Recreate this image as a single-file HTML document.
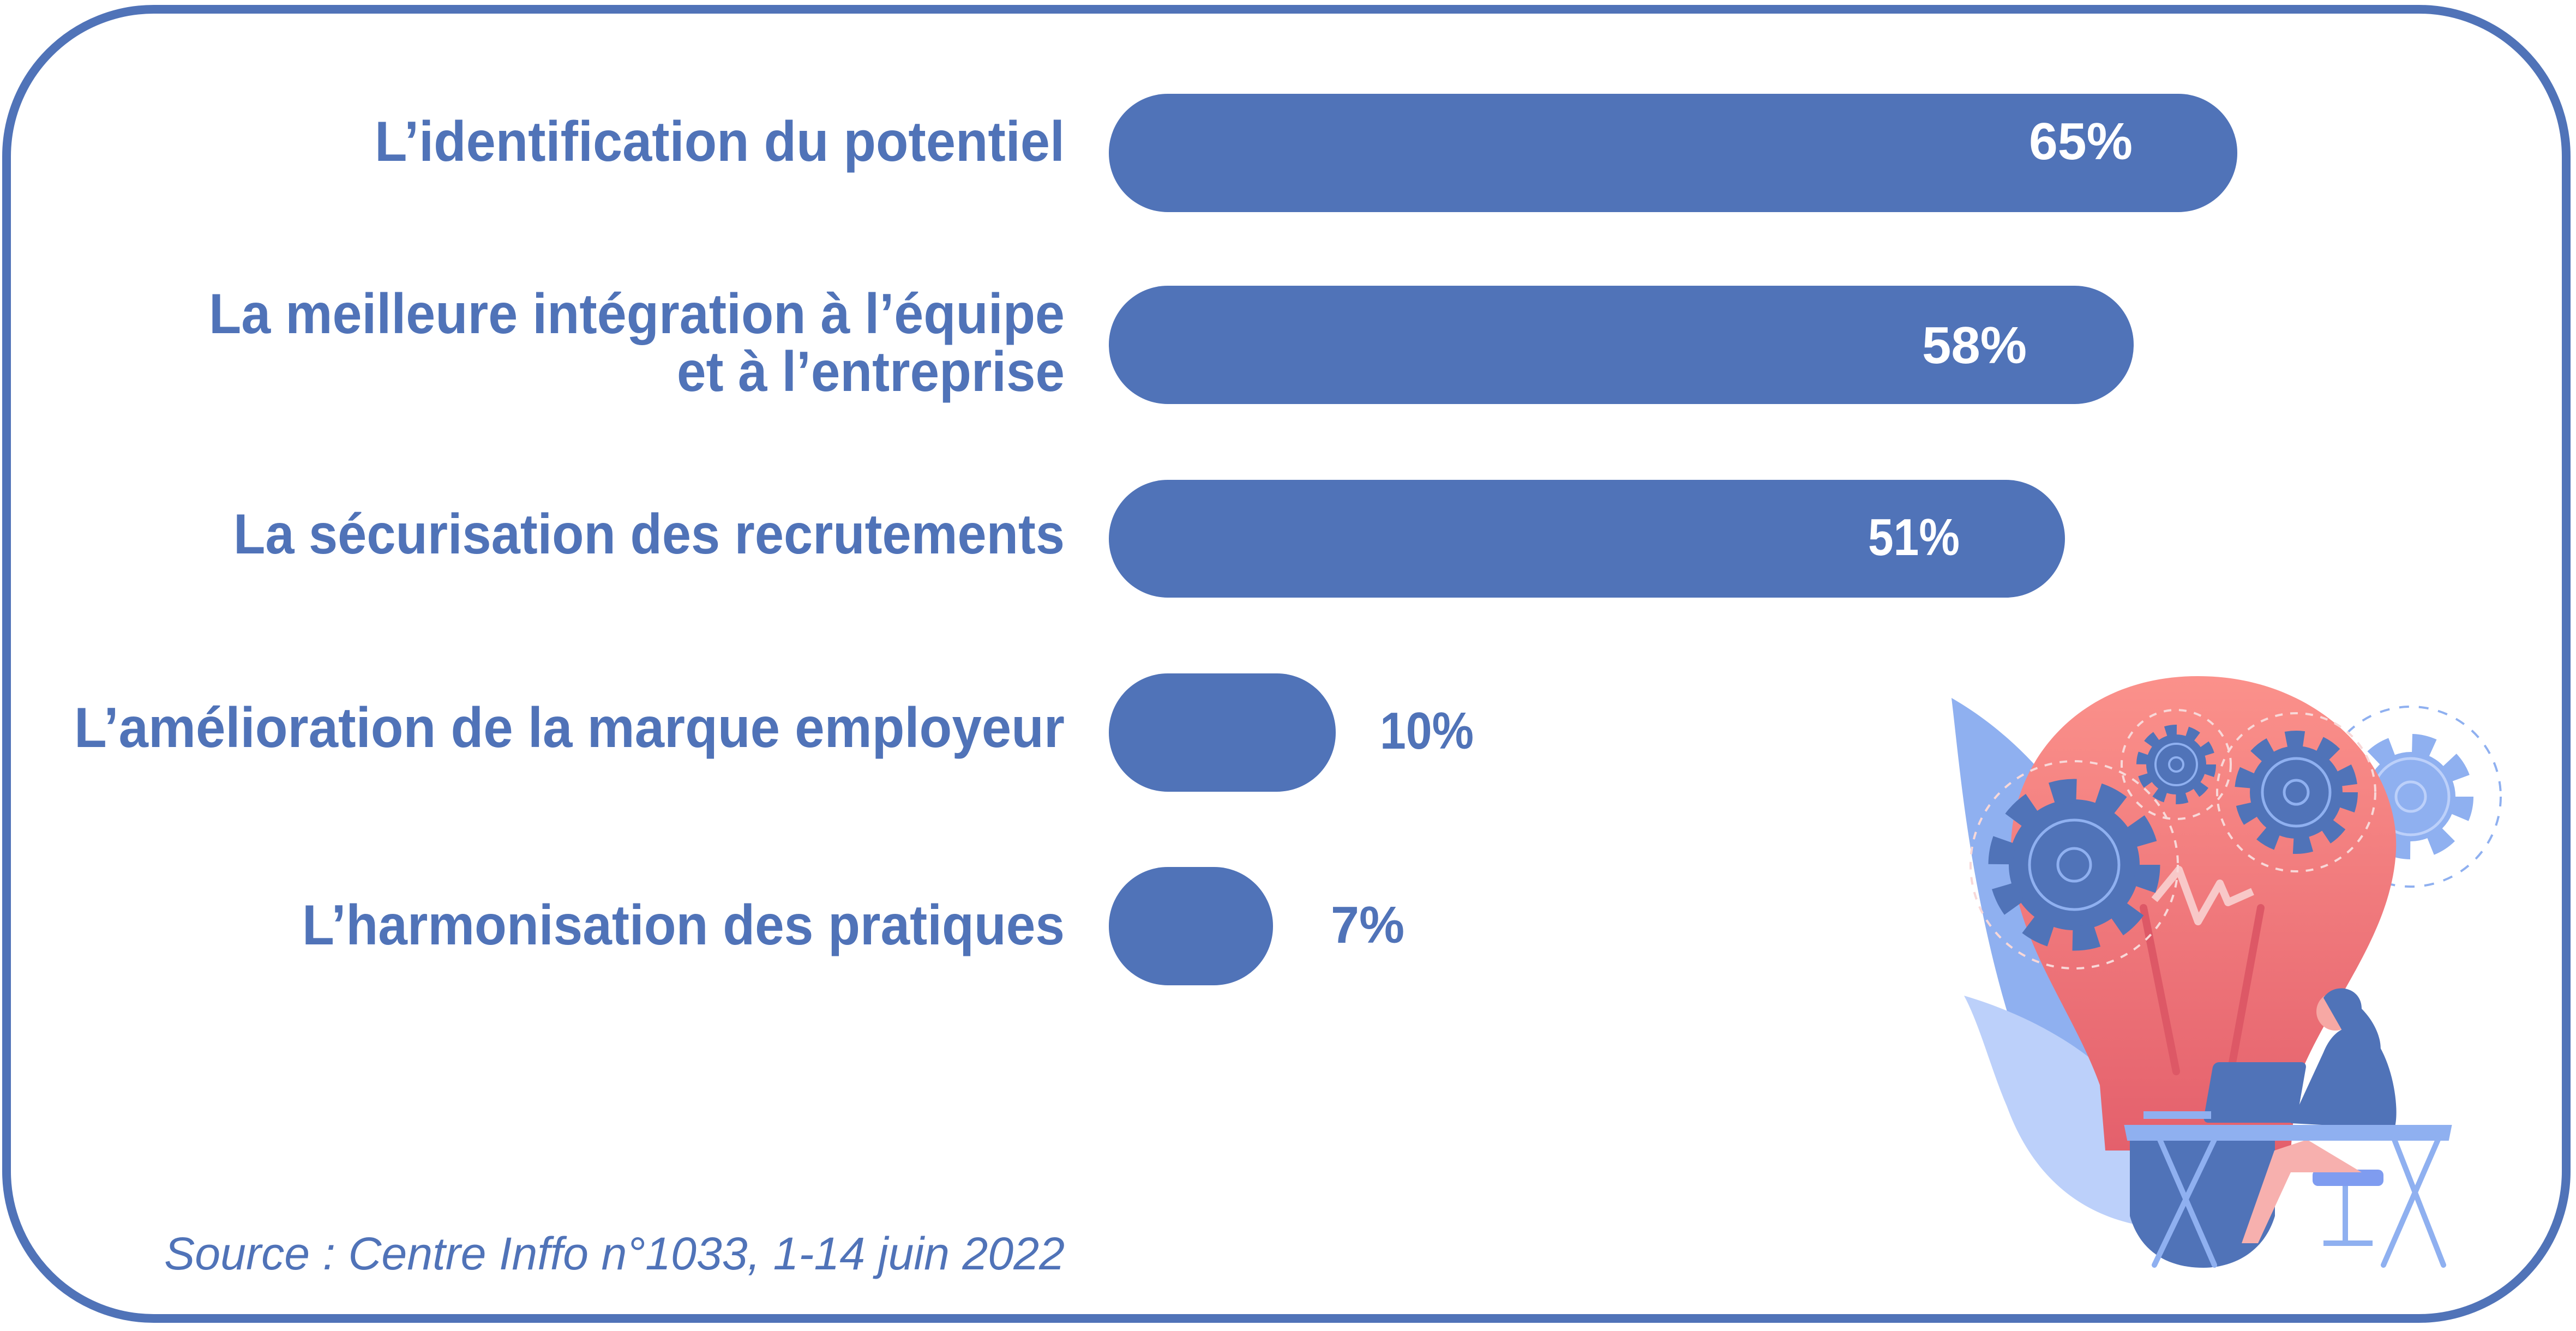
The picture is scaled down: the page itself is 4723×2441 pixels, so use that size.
<!DOCTYPE html>
<html><head><meta charset="utf-8"><style>html,body{margin:0;padding:0;background:#fff}svg{display:block}</style></head>
<body>
<svg width="4723" height="2441" viewBox="0 0 4723 2441" xmlns="http://www.w3.org/2000/svg">
<defs>
<linearGradient id="bulb" x1="0" y1="0" x2="0" y2="1"><stop offset="0" stop-color="#fb918b"/><stop offset="1" stop-color="#e4606c"/></linearGradient>
</defs>
<rect x="12" y="17" width="4693" height="2401" rx="270" fill="#fff" stroke="#5073b8" stroke-width="16"/>
<g fill="#5073b8" font-family="'Liberation Sans',sans-serif" font-weight="bold" font-size="104" text-anchor="start">
<text x="687" y="295" textLength="1265" lengthAdjust="spacingAndGlyphs">L’identification du potentiel</text>
<text x="383" y="611" textLength="1569" lengthAdjust="spacingAndGlyphs">La meilleure intégration à l’équipe</text>
<text x="1241" y="717" textLength="711" lengthAdjust="spacingAndGlyphs">et à l’entreprise</text>
<text x="428" y="1015" textLength="1524" lengthAdjust="spacingAndGlyphs">La sécurisation des recrutements</text>
<text x="136" y="1370" textLength="1816" lengthAdjust="spacingAndGlyphs">L’amélioration de la marque employeur</text>
<text x="554" y="1732" textLength="1398" lengthAdjust="spacingAndGlyphs">L’harmonisation des pratiques</text>
</g>
<g fill="#5073b8">
<rect x="2033" y="172" width="2069" height="217" rx="108"/>
<rect x="2033" y="524" width="1879" height="217" rx="108"/>
<rect x="2033" y="880" width="1753" height="216" rx="108"/>
<rect x="2033" y="1235" width="416" height="217" rx="108"/>
<rect x="2033" y="1590" width="301" height="217" rx="108"/>
</g>
<g font-family="'Liberation Sans',sans-serif" font-weight="bold" font-size="96">
<text x="3720" y="292" fill="#fff" textLength="190" lengthAdjust="spacingAndGlyphs">65%</text>
<text x="3524" y="666" fill="#fff" textLength="192" lengthAdjust="spacingAndGlyphs">58%</text>
<text x="3425" y="1018" fill="#fff" textLength="168" lengthAdjust="spacingAndGlyphs">51%</text>
<text x="2530" y="1373" fill="#5073b8" textLength="172" lengthAdjust="spacingAndGlyphs">10%</text>
<text x="2440" y="1729" fill="#5073b8" textLength="135" lengthAdjust="spacingAndGlyphs">7%</text>
</g>
<text x="301" y="2328" fill="#5073b8" font-family="'Liberation Sans',sans-serif" font-style="italic" font-size="84" textLength="1651" lengthAdjust="spacingAndGlyphs">Source : Centre Inffo n°1033, 1-14 juin 2022</text>

<!-- illustration -->
<path d="M3578,1280 C3700,1350 3860,1500 3930,1800 C3980,2050 3950,2200 3930,2240 C3760,2150 3680,1900 3630,1650 C3600,1500 3590,1380 3578,1280 Z" fill="#8fb0f0"/>
<path d="M3601,1826 C3750,1870 3900,1960 3960,2100 L3940,2250 C3800,2230 3720,2140 3680,2030 C3650,1960 3630,1880 3601,1826 Z" fill="#bcd0fa"/>
<g transform="translate(4420,1461)">
<circle r="82" fill="#8fb0f0"/><circle r="95" fill="none" stroke="#8fb0f0" stroke-width="40" stroke-dasharray="38 37"/>
<circle r="70" fill="none" stroke="#bcd0fa" stroke-width="5"/><circle r="27" fill="none" stroke="#bcd0fa" stroke-width="5"/>
<circle r="165" fill="none" stroke="#8fb0f0" stroke-width="4" stroke-dasharray="18 18"/>
</g>
<path d="M4030,1240 C4250,1240 4400,1400 4393,1560 C4385,1720 4260,1850 4210,1990 L4200,2110 L3860,2110 L3850,1990 C3800,1850 3690,1720 3687,1560 C3685,1400 3810,1240 4030,1240 Z" fill="url(#bulb)"/>
<path d="M3905,2090 L4171,2090 L4171,2230 C4150,2300 4090,2325 4040,2325 C3980,2325 3925,2300 3905,2230 Z" fill="#5073b8"/>
<path d="M3930,1665 L3990,1965 M4145,1665 L4090,1965" stroke="#dd5866" stroke-width="14" stroke-linecap="round"/>
<path d="M3950,1650 L3995,1595 L4030,1690 L4070,1620 L4085,1655 L4130,1635" stroke="#f8c8c8" stroke-width="14" fill="none" stroke-linejoin="round"/>
<g transform="translate(3803,1586)">
<circle r="120" fill="#5073b8"/><circle r="135" fill="none" stroke="#5073b8" stroke-width="45" stroke-dasharray="45 40"/>
<circle r="82" fill="none" stroke="#8fb0f0" stroke-width="5"/><circle r="30" fill="none" stroke="#8fb0f0" stroke-width="5"/>
</g>
<g transform="translate(3990,1402)">
<circle r="55" fill="#5073b8"/><circle r="62" fill="none" stroke="#5073b8" stroke-width="22" stroke-dasharray="20 19"/>
<circle r="38" fill="none" stroke="#8fb0f0" stroke-width="4"/><circle r="13" fill="none" stroke="#8fb0f0" stroke-width="4"/>
</g>
<g transform="translate(4210,1453)">
<circle r="85" fill="#5073b8"/><circle r="96" fill="none" stroke="#5073b8" stroke-width="34" stroke-dasharray="32 30"/>
<circle r="62" fill="none" stroke="#8fb0f0" stroke-width="5"/><circle r="22" fill="none" stroke="#8fb0f0" stroke-width="5"/>
</g>
<g fill="none" stroke="#f8d8d8" stroke-width="4" stroke-dasharray="14 14">
<circle cx="3803" cy="1586" r="190"/><circle cx="3990" cy="1402" r="100"/><circle cx="4210" cy="1453" r="145"/>
</g>
<!-- desk -->
<rect x="4062" y="1948" width="171" height="111" rx="10" fill="#5073b8" transform="skewX(-10) translate(340,0)"/>
<path d="M4200,2060 L4260,1930 C4280,1880 4320,1870 4350,1900 C4390,1950 4400,2040 4390,2070 Z" fill="#5073b8"/>
<circle cx="4282" cy="1855" r="35" fill="#f7a8a4"/>
<path d="M4260,1830 C4280,1800 4330,1810 4330,1850 C4360,1880 4380,1930 4350,1960 L4300,1900 Z" fill="#5073b8"/>
<rect x="4240" y="2145" width="130" height="30" rx="10" fill="#7f9cf0"/>
<path d="M4300,2175 L4300,2280 M4260,2280 L4350,2280" stroke="#8fb0f0" stroke-width="10"/>
<path d="M4230,2090 L4330,2150 L4200,2150 L4140,2280 L4110,2280 L4170,2110 Z" fill="#f7b0ae"/>
<path d="M3903,2070 L4487,2070 L4484,2085 L3906,2085 Z" fill="#8fb0f0" stroke="#8fb0f0" stroke-width="14"/>
<path d="M3960,2090 L4060,2320 M4060,2090 L3950,2320 M4390,2090 L4480,2320 M4470,2090 L4370,2320" stroke="#8fb0f0" stroke-width="10" stroke-linecap="round"/>
<rect x="3930" y="2038" width="124" height="14" fill="#8fb0f0"/>
</svg>
</body></html>
